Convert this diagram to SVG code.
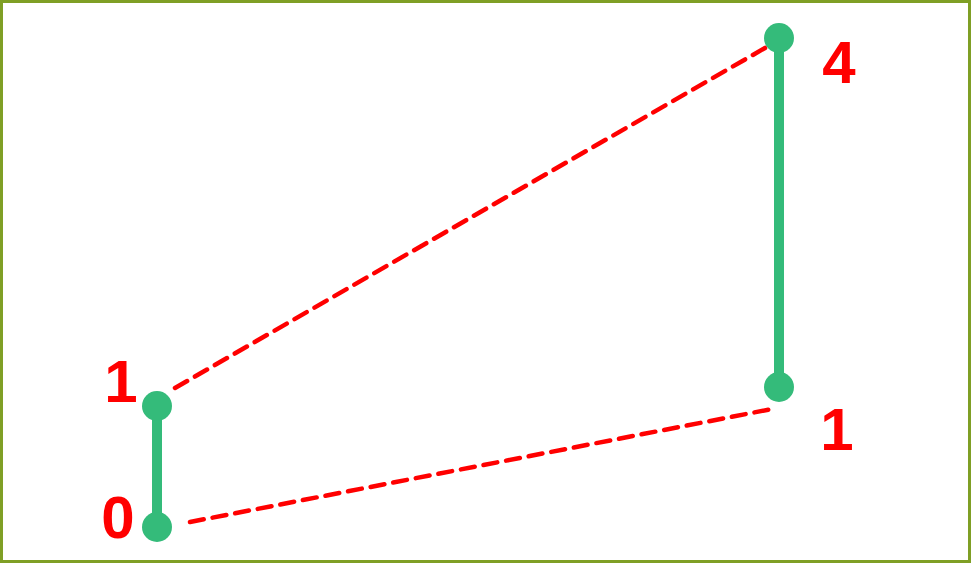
<svg xmlns="http://www.w3.org/2000/svg" width="971" height="587" viewBox="0 0 971 587">
<style>
.lbl{font-family:"Liberation Sans",Arial,sans-serif;font-weight:bold;font-size:60px;fill:#ff0000;text-anchor:middle}
.seg{stroke:#34bb7a;stroke-width:10;fill:none}
.pt{fill:#34bb7a}
.dash{stroke:#ff0000;stroke-width:4.5;stroke-dasharray:14 9;stroke-linecap:round;fill:none}
</style>
<rect x="1.5" y="1.5" width="968" height="560" fill="#ffffff" stroke="#7f9f25" stroke-width="3"/>
<g id="connectors">
<line class="seg" x1="157" y1="406" x2="157" y2="527"/>
<line class="seg" x1="779" y1="38" x2="779" y2="387"/>
<line class="dash" x1="175" y1="388" x2="784" y2="37"/>
<line class="dash" x1="190" y1="522" x2="772" y2="409"/>
</g>
<g id="n1"><circle class="pt" cx="157" cy="406" r="15"/><text class="lbl" x="121" y="402">1</text></g>
<g id="n0"><circle class="pt" cx="157" cy="527" r="15"/><text class="lbl" x="118" y="538">0</text></g>
<g id="n4"><circle class="pt" cx="779" cy="38" r="15"/><text class="lbl" x="839" y="83">4</text></g>
<g id="n1b"><circle class="pt" cx="779" cy="387" r="15"/><text class="lbl" x="837" y="450">1</text></g>
</svg>
